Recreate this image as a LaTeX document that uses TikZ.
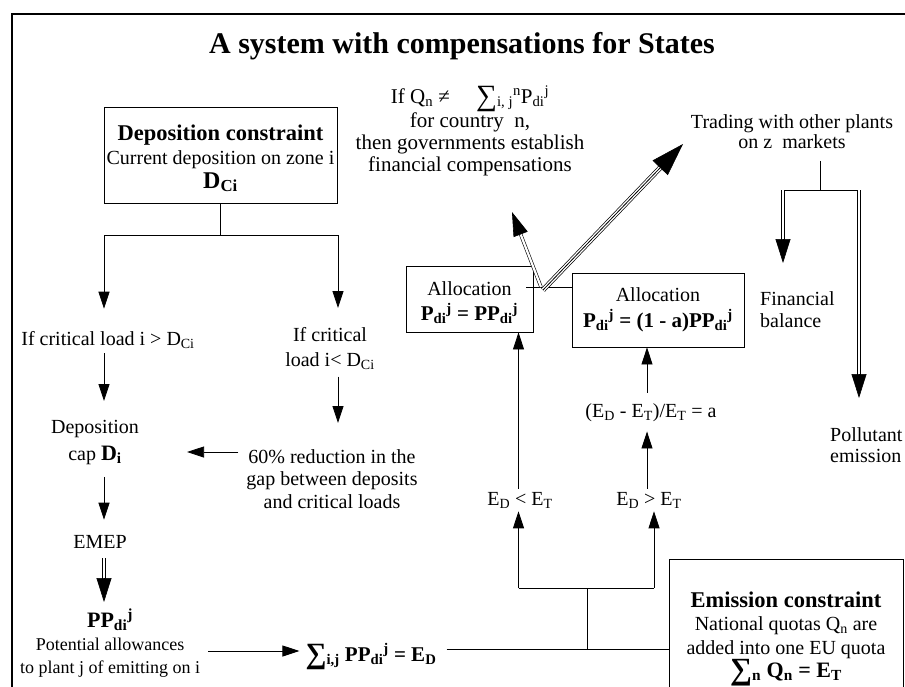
\documentclass[tikz,border=0pt]{standalone}
\usepackage{fontspec}
\setmainfont{Liberation Serif}
\usetikzlibrary{arrows.meta,calc}
\newcommand\bsum{\raisebox{-0.1em}{\scalebox{1.4}{∑}}}
\begin{document}
\begin{tikzpicture}[x=1pt,y=-1pt,
 every node/.style={inner sep=0pt},
 txt/.style={align=center,font=\fontsize{20}{22.5}\selectfont},
 box/.style={draw,line width=0.8pt,align=center,font=\fontsize{20}{23}\selectfont},
 ln/.style={line width=0.8pt},
 arr/.style={line width=0.8pt,-{Triangle[length=17pt,width=11pt]}},
 dbl/.style={double,double distance=2.2pt,line width=0.6pt},
 tipa/.style={line width=0.6pt,-{Triangle[length=24pt,width=15pt]}},
 tipb/.style={line width=0.6pt,-{Triangle[length=33pt,width=21pt]}},
]
\useasboundingbox (0,0) rectangle (905,686);
\clip (0,0) rectangle (905,686);
\fill[white] (0,0) rectangle (905,686);
\draw[line width=2pt] (12,14) rectangle (916,700);

% texts
\node[txt,anchor=base,font=\fontsize{30}{34}\selectfont\bfseries] (title) at (462,53) {A system with compensations for States};
\node[txt,anchor=north,font=\fontsize{21}{22}\selectfont] (comp) at (470,86) {If Q\textsubscript{n} ≠\quad\ \bsum\textsubscript{i, j}\textsuperscript{n}P\textsubscript{di}\textsuperscript{j}\\for country\ \ n,\\then governments establish\\financial compensations};
\node[box,minimum width=233,minimum height=96,font=\fontsize{20}{24}\selectfont] (depbox) at (220.5,155) {{\fontsize{22.5}{26}\selectfont\bfseries\rule{0pt}{22pt}Deposition constraint}\\Current deposition on zone i\\{\fontsize{24}{26}\selectfont\bfseries D\textsubscript{Ci}}};
\node[txt,anchor=base] (ifgt) at (108,345) {If critical load i > D\textsubscript{Ci}};
\node[txt,anchor=north,font=\fontsize{20}{25}\selectfont] (iflt) at (330,327) {If critical\\load i< D\textsubscript{Ci}};
\node[txt,anchor=north,font=\fontsize{20}{27}\selectfont] (depcap) at (95,420) {Deposition\\cap {\fontsize{22}{27}\selectfont\bfseries D\textsubscript{i}}};
\node[txt,anchor=north] (reduc) at (332,449) {60\% reduction in the\\gap between deposits\\and critical loads};
\node[txt,anchor=base] (emep) at (100,548) {EMEP};
\node[txt,anchor=north,font=\fontsize{18}{23}\selectfont] (pp) at (110,609) {{\fontsize{22}{23}\selectfont\bfseries PP\textsubscript{di}\textsuperscript{j}}\\Potential allowances\\to plant j of emitting on i};
\node[txt,anchor=base,font=\fontsize{21}{24}\selectfont\bfseries] (sumD) at (371,661) {\bsum\textsubscript{i,j} PP\textsubscript{di}\textsuperscript{j} = E\textsubscript{D}};
\node[box,minimum width=127,minimum height=66,font=\fontsize{20}{25.5}\selectfont] (alloc1) at (469.5,299) {\rule{0pt}{21pt}Allocation\\{\fontsize{21}{25}\selectfont\bfseries P\textsubscript{di}\textsuperscript{j} = PP\textsubscript{di}\textsuperscript{j}}};
\node[box,minimum width=172,minimum height=74,font=\fontsize{20}{25.5}\selectfont] (alloc2) at (658,310) {Allocation\\{\fontsize{21}{25}\selectfont\bfseries P\textsubscript{di}\textsuperscript{j} = (1 - a)PP\textsubscript{di}\textsuperscript{j}}};
\node[txt,anchor=base] (ratio) at (651,417) {(E\textsubscript{D} - E\textsubscript{T})/E\textsubscript{T} = a};
\node[txt,anchor=base] (edlt) at (520,505) {E\textsubscript{D} < E\textsubscript{T}};
\node[txt,anchor=base] (edgt) at (649,505) {E\textsubscript{D} > E\textsubscript{T}};
\node[box,minimum width=234,minimum height=160,font=\fontsize{20}{23.5}\selectfont] (emis) at (786,639) {{\fontsize{22.5}{24}\selectfont\bfseries Emission constraint}\\National quotas Q\textsubscript{n} are\\added into one EU quota\\{\fontsize{22}{24}\selectfont\bfseries \bsum\textsubscript{n} Q\textsubscript{n} = E\textsubscript{T}}};
\node[txt,anchor=north,font=\fontsize{20}{20.5}\selectfont] (trading) at (792,114) {Trading with other plants\\on z\ \ markets};
\node[txt,anchor=north west,align=left,font=\fontsize{20}{22}\selectfont] (finbal) at (760,291) {Financial\\balance};
\node[txt,anchor=north west,align=left,font=\fontsize{20}{21}\selectfont] (pollut) at (830,427) {Pollutant\\emission};

% connectors, left part
\coordinate (jt) at (220.5,235);
\coordinate (jl) at (104,235);
\coordinate (jr) at (338,235);
\draw[ln] (depbox.south) -- (jt);
\draw[ln] (jl) -- (jr);
\draw[arr,shorten >=22pt] (jl) -- (jl |- ifgt.north);
\draw[arr,shorten >=19pt] (jr) -- (jr |- iflt.north);
\draw[arr,shorten <=5pt,shorten >=19pt] (jl |- ifgt.south) -- (jl |- depcap.north);
\draw[arr,shorten <=7pt,shorten >=26pt] (jr |- iflt.south) -- (jr |- reduc.north);
\coordinate (ry) at (0,452);
\draw[arr,shorten <=8pt,shorten >=48pt] (reduc.west |- ry) -- (depcap.east |- ry);
\draw[arr,shorten <=12pt,shorten >=15pt] (jl |- depcap.south) -- (jl |- emep.north);
\coordinate (et) at (104,602);
\draw[dbl,shorten <=10pt] (jl |- emep.south) -- ([yshift=23pt]et);
\draw[tipa] ([yshift=24pt]et) -- (et);
\coordinate (py) at (0,651);
\draw[arr,shorten <=8pt,shorten >=6pt] (pp.east |- py) -- (sumD.west |- py);

% bottom right
\coordinate (ey) at (0,649);
\draw[ln,shorten <=10pt] (sumD.east |- ey) -- (emis.west |- ey);
\coordinate (ej) at (587,649);
\coordinate (ej2) at (587,588);
\coordinate (el) at (518.5,588);
\coordinate (er) at (654,588);
\draw[ln] (ej) -- (ej2);
\draw[ln] (el) -- (er);
\draw[arr,shorten >=3pt] (el) -- (el |- edlt.south);
\draw[arr,shorten >=3pt] (er) -- (er |- edgt.south);
\draw[arr,shorten <=3pt] (el |- edlt.north) -- (el |- alloc1.south);
\coordinate (xr) at (647,0);
\draw[arr,shorten <=3pt,shorten >=10pt] (xr |- edgt.north) -- (xr |- ratio.south);
\draw[arr,shorten <=10pt] (xr |- ratio.north) -- (xr |- alloc2.south);

% allocation junction
\coordinate (jn) at (541,287);
\coordinate (jn2) at (543,290);
\draw[ln] ($(alloc1.east |- jn)+(-7,0)$) -- (alloc2.west |- jn);
\coordinate (t1) at (512,212);
\draw[dbl] (jn) -- ($(t1)!23pt!(jn)$);
\draw[tipa] ($(t1)!24pt!(jn)$) -- (t1);
\coordinate (t2) at (683,144);
\draw[dbl,double distance=3.6pt,line width=0.7pt] (jn2) -- ($(t2)!32pt!(jn2)$);
\draw[line width=0.8pt] (jn2) -- ($(t2)!32pt!(jn2)$);
\draw[tipb] ($(t2)!33pt!(jn2)$) -- (t2);

% trading
\coordinate (tj) at (820,190);
\coordinate (fl) at (783,190);
\coordinate (fr) at (859,190);
\draw[ln,shorten <=12pt] (tj |- trading.south) -- (tj);
\draw[ln] (fl) -- (fr);
\coordinate (ft) at (783,263);
\coordinate (pt) at (859,398);
\draw[dbl] (fl) -- ([yshift=23pt]ft);
\draw[tipa] ([yshift=24pt]ft) -- (ft);
\draw[dbl] (fr) -- ([yshift=23pt]pt);
\draw[tipa] ([yshift=24pt]pt) -- (pt);
\end{tikzpicture}
\end{document}
